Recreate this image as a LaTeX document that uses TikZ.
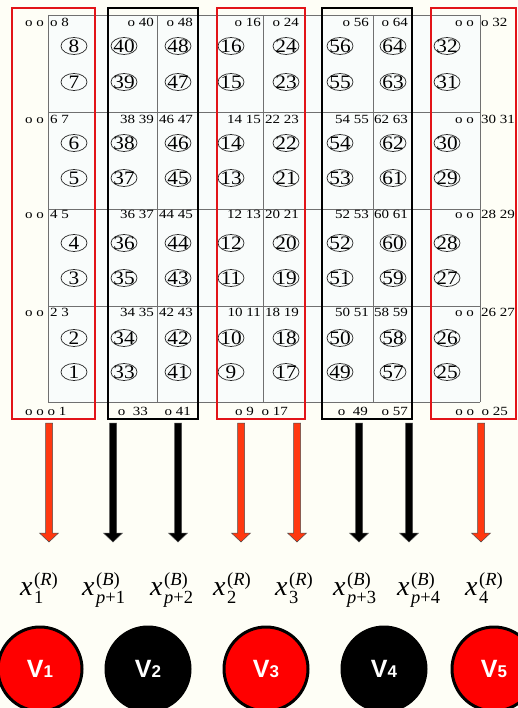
\documentclass[tikz,border=0pt]{standalone}
\usepackage{fontspec}
\setmainfont{Liberation Serif}
\newfontfamily\lblfamily[FakeStretch=1.2]{Liberation Serif}
\newfontfamily\cnfamily[FakeStretch=1.12]{Liberation Serif}
\newfontfamily\vfamily{Liberation Sans}
\usetikzlibrary{shapes.geometric}

\definecolor{bgcol}{RGB}{254,254,246}
\definecolor{gridbg}{RGB}{249,252,251}
\definecolor{gridcol}{RGB}{112,112,112}
\definecolor{frameRed}{RGB}{226,20,24}
\definecolor{arrowRed}{RGB}{255,56,16}
\definecolor{vRed}{RGB}{255,0,0}

\newcommand\lblsize{\lblfamily\fontsize{12.5}{13}\selectfont}
\newcommand\cnsize{\cnfamily\fontsize{19}{19}\selectfont}
\newcommand\xlab[2]{{\fontsize{28}{28}\selectfont\itshape x}\kern1.5pt\raisebox{-8pt}{\fontsize{18.5}{18}\selectfont\begin{tabular}[b]{@{}l@{}}#1\\#2\end{tabular}}}
\newcommand\vsub[1]{{\fontsize{17}{17}\selectfont #1}}

\begin{document}
\begin{tikzpicture}[x=1pt,y=-1pt,
  gridline/.style={draw=gridcol, line width=0.8pt},
  redframe/.style={draw=frameRed, line width=2.6pt},
  blackframe/.style={draw=black, line width=2.6pt},
  cnum/.style={draw=black!85, line width=0.7pt, ellipse, minimum width=26pt, minimum height=17pt, inner sep=0pt},
  cnlab/.style={font=\cnsize, inner sep=0pt},
  lbl/.style={font=\lblsize, inner sep=0pt},
  xlabel/.style={inner sep=0pt, anchor=base west},
  vnode/.style={circle, draw=black, line width=3pt, minimum size=84pt, inner sep=0pt, text=white, font=\vfamily\bfseries\fontsize{25}{25}\selectfont},
  bigarrow/.style={draw=black!70, line width=0.5pt}
]
\useasboundingbox (0,0) rectangle (518,708);
\clip (0,0) rectangle (518,708);
\fill[bgcol] (0,0) rectangle (518,708);

% grid
\fill[gridbg] (48,15) rectangle (480,402);
\foreach \gx in {48,157,263,373,480} \draw[gridline] (\gx,15) -- (\gx,402);
\foreach \gy in {15,112,209,306,402} \draw[gridline] (48,\gy) -- (480,\gy);

% circled numbers
\foreach \cx/\topn in {74/8, 124/40, 178/48, 231/16, 286/24, 340/56, 393/64, 447/32} {
  \foreach \cy [count=\i from 0] in {46,82,143,178,243,278,338,372} {
    \pgfmathtruncatemacro\n{\topn-\i}
    \node[cnum, label={[cnlab]center:\n}] (c\n) at (\cx,\cy) {};
  }
}

% row labels
\foreach \b/\la/\lb/\lc/\ld/\le/\lf/\lg/\lh/\li [count=\r] in
  {27/o 8/o 40/o 48/o 16/o 24/o 56/o 64/o 32/o o o,
   124/6 7/38 39/46 47/14 15/22 23/54 55/62 63/30 31/o o,
   219/4 5/36 37/44 45/12 13/20 21/52 53/60 61/28 29/o o,
   316/2 3/34 35/42 43/10 11/18 19/50 51/58 59/26 27/o o} {
  \node[lbl, anchor=base east] (r\r a) at (44,\b) {o o};
  \node[lbl, anchor=base west] (r\r b) at (50,\b) {\la};
  \node[lbl, anchor=base east] (r\r c) at (154,\b) {\lb};
  \node[lbl, anchor=base east] (r\r d) at (193,\b) {\lc};
  \node[lbl, anchor=base east] (r\r e) at (261,\b) {\ld};
  \node[lbl, anchor=base east] (r\r f) at (299,\b) {\le};
  \node[lbl, anchor=base east] (r\r g) at (369,\b) {\lf};
  \node[lbl, anchor=base east] (r\r h) at (408,\b) {\lg};
  \node[lbl, anchor=base east] (r\r i) at (474,\b) {o o};
  \node[lbl, anchor=base west] (r\r j) at (481,\b) {\lh};
}
% bottom labels
\node[lbl, anchor=base west] (b1) at (25,415) {o o o 1};
\node[lbl, anchor=base east] (b2) at (148,415) {o\ \ 33};
\node[lbl, anchor=base east] (b3) at (191,415) {o 41};
\node[lbl, anchor=base east] (b4) at (254,415) {o 9};
\node[lbl, anchor=base east] (b5) at (288,415) {o 17};
\node[lbl, anchor=base east] (b6) at (368,415) {o\ \ 49};
\node[lbl, anchor=base east] (b7) at (408,415) {o 57};
\node[lbl, anchor=base east] (b8) at (508,415) {o o\ \ o 25};

% frames
\draw[redframe] (12,8) rectangle (95,419);
\draw[blackframe] (108,8) rectangle (198,419);
\draw[redframe] (217,8) rectangle (305,419);
\draw[blackframe] (322,8) rectangle (412,419);
\draw[redframe] (431,8) rectangle (516,419);

% arrows
\foreach \ax/\ac in {49/arrowRed, 113/black, 178/black, 241/arrowRed, 297/arrowRed, 359/black, 409/black, 481/arrowRed} {
  \filldraw[bigarrow, fill=\ac] (\ax-3.5,423) -- (\ax+3.5,423) -- (\ax+3.5,533) -- (\ax+9.5,533)
     -- (\ax,542) -- (\ax-9.5,533) -- (\ax-3.5,533) -- cycle;
}

% variable labels
\node[xlabel] (x1) at (20,595) {\xlab{(\textit{R})}{1}};
\node[xlabel] (x2) at (82,595) {\xlab{(\textit{B})}{\textit{p}+1}};
\node[xlabel] (x3) at (150,595) {\xlab{(\textit{B})}{\textit{p}+2}};
\node[xlabel] (x4) at (213,595) {\xlab{(\textit{R})}{2}};
\node[xlabel] (x5) at (275,595) {\xlab{(\textit{R})}{3}};
\node[xlabel] (x6) at (333,595) {\xlab{(\textit{B})}{\textit{p}+3}};
\node[xlabel] (x7) at (397,595) {\xlab{(\textit{B})}{\textit{p}+4}};
\node[xlabel] (x8) at (465,595) {\xlab{(\textit{R})}{4}};

% V nodes
\node[vnode, fill=vRed] (v1) at (40,669) {V\vsub{1}};
\node[vnode, fill=black] (v2) at (148,669) {V\vsub{2}};
\node[vnode, fill=vRed] (v3) at (266,669) {V\vsub{3}};
\node[vnode, fill=black] (v4) at (384,669) {V\vsub{4}};
\node[vnode, fill=vRed] (v5) at (494,669) {V\vsub{5}};
\end{tikzpicture}
\end{document}
